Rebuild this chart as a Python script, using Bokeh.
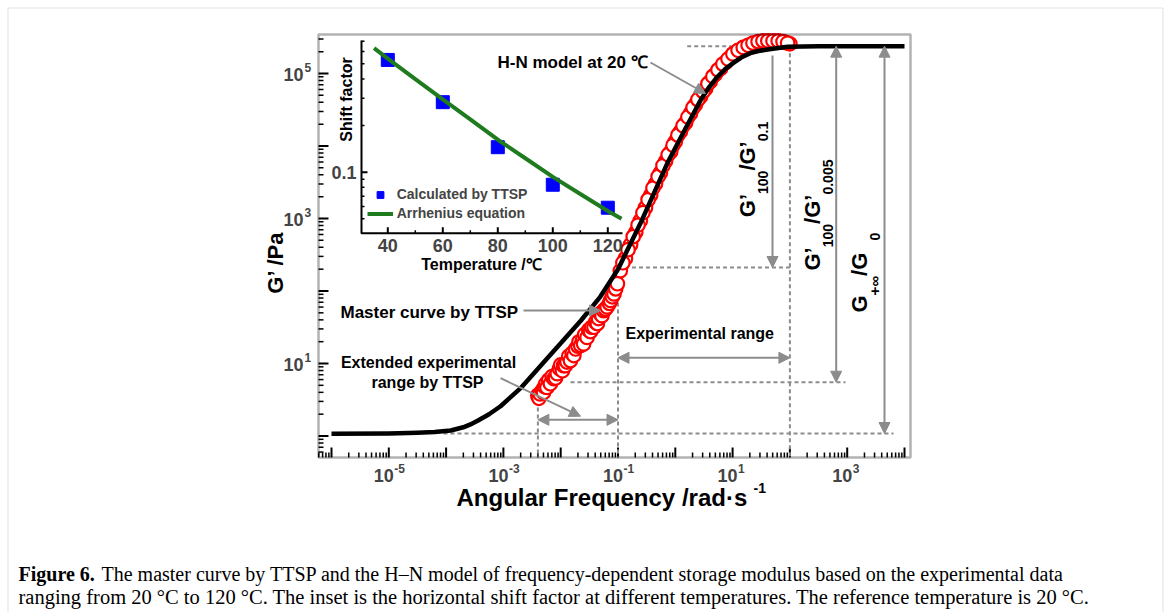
import math
from bokeh.plotting import figure
from bokeh.models import (Range1d, LogScale, LinearScale, Label, Arrow,
                          NormalHead, BoxAnnotation, Legend, LegendItem)
from bokeh.embed import file_html
from bokeh.resources import INLINE

# ---------------- data ----------------
# H-N model at 20 C (log10 of angular frequency, log10 of G')
hn_log_omega = [-6.0, -5.0, -4.5, -4.2, -3.92, -3.7, -3.575, -3.45, -3.25, -3.05, -2.70, -2.35,
                -2.0, -1.65, -1.31, -1.0, -0.61, -0.14, 0.15, 0.44, 0.58, 0.73, 0.87, 1.02,
                1.15, 1.31, 1.45, 1.61, 1.96, 2.5, 3.0, 4.0]
hn_log_G = [0.03, 0.035, 0.045, 0.055, 0.076, 0.12, 0.16, 0.21, 0.30, 0.41, 0.66, 0.97,
            1.28, 1.59, 1.92, 2.30, 2.93, 3.76, 4.20, 4.63, 4.80, 4.95, 5.06, 5.15,
            5.22, 5.28, 5.31, 5.33, 5.37, 5.375, 5.377, 5.377]

# master curve by TTSP (experimental points, log10 values, overlapping segments)
exp_log_omega = [-2.40, -2.38, -2.36, -2.32, -2.30, -2.28, -2.26, -2.24, -2.21, -2.18, -2.15,
                 -2.12, -2.09, -2.06, -2.02, -2.00, -1.97, -1.95, -1.92, -1.89, -1.86, -1.83,
                 -1.80, -1.77, -1.74, -1.70, -1.68, -1.65, -1.62, -1.60, -1.58, -1.54, -1.51,
                 -1.48, -1.46, -1.42, -1.39, -1.36, -1.34, -1.31, -1.28, -1.25, -1.22, -1.19,
                 -1.15, -1.13, -1.10, -1.07, -1.04, -1.01,
                 -0.96, -0.87, -0.78, -0.69, -0.61, -0.52, -0.43, -0.345, -0.26, -0.17, -0.08,
                 0.0, 0.09, 0.18, 0.265, 0.35, 0.44, 0.53, 0.61, 0.70, 0.79, 0.875, 0.96, 1.05,
                 1.14, 1.23, 1.31, 1.40, 1.49, 1.57, 1.66, 1.75, 1.84, 1.92, 2.0,
                 -0.915, -0.825, -0.735, -0.65, -0.565, -0.475, -0.39, -0.30, -0.215, -0.125,
                 -0.04, 0.045, 0.135, 0.22, 0.31, 0.395, 0.485, 0.57, 0.655, 0.745, 0.83, 0.92,
                 1.005, 1.095, 1.185, 1.27, 1.355, 1.445, 1.53, 1.615, 1.705, 1.795, 1.88, 1.96]
exp_log_G = [0.56, 0.52, 0.58, 0.63, 0.60, 0.68, 0.72, 0.67, 0.77, 0.72, 0.82,
             0.79, 0.80, 0.86, 0.93, 0.98, 0.90, 0.97, 0.97, 1.02, 1.10, 1.04,
             1.14, 1.11, 1.20, 1.24, 1.30, 1.25, 1.32, 1.27, 1.40, 1.36, 1.46,
             1.44, 1.50, 1.50, 1.57, 1.55, 1.62, 1.69, 1.66, 1.73, 1.75, 1.78,
             1.83, 1.87, 1.92, 1.96, 2.03, 2.10,
             2.28, 2.45, 2.64, 2.81, 2.97, 3.15, 3.32, 3.48, 3.63, 3.79, 3.92,
             4.06, 4.20, 4.32, 4.45, 4.57, 4.68, 4.79, 4.89, 4.99, 5.07, 5.15, 5.22, 5.28,
             5.32, 5.36, 5.39, 5.41, 5.43, 5.43, 5.44, 5.44, 5.44, 5.43, 5.41,
             2.39, 2.57, 2.75, 2.91, 3.08, 3.26, 3.42, 3.58, 3.73, 3.88,
             4.01, 4.15, 4.28, 4.40, 4.53, 4.64, 4.75, 4.86, 4.96, 5.05, 5.13, 5.20,
             5.27, 5.32, 5.36, 5.39, 5.42, 5.44, 5.45, 5.45, 5.45, 5.45, 5.44, 5.42]

# inset: shift factor vs temperature
ttsp_temp = [40, 60, 80, 100, 120]
ttsp_shift = [0.53, 0.283, 0.145, 0.083, 0.059]
arr_temp = [35, 40, 50, 60, 70, 80, 90, 100, 110, 120, 125]
arr_shift = [0.631, 0.540, 0.398, 0.295, 0.219, 0.162, 0.123, 0.0933, 0.0724, 0.0562, 0.0501]

# reference levels marked by dashed guides
G_inf = 10 ** 5.377
G_0 = 10 ** 0.034
G_01 = 10 ** 2.324
G_0005 = 10 ** 0.742
w_ext_lo = 0.004
w_lo = 0.1
w_hi = 100.0

x_tick_exps = [-5, -3, -1, 1, 3]
y_tick_exps = [1, 3, 5]
inset_x_ticks = [40, 60, 80, 100, 120]
inset_x_minor = [50, 70, 90, 110]
inset_y_major = [0.1]
inset_y_minor = [0.05, 0.06, 0.07, 0.08, 0.09, 0.2, 0.3, 0.4, 0.5, 0.6, 0.7]

# ---------------- layout (pixel geometry of the canvas) ----------------
W, H = 1170, 612


def px2x(px):   # main x scale: 10^-5 at 388.3 px, 57.3 px per decade
    return 10 ** (-5 + (px - 388.3) / 57.3)


def px2y(py):   # main y scale: 10^1 at 363 px, 72.5 px per decade
    return 10 ** (1 - (py - 363) / 72.5)


def ipx2t(px):  # inset x scale
    return 40 + (px - 387.3) / 2.75


def ipy2v(py):  # inset y scale
    return 10 ** (-1 - (py - 171.7) / 155)


FL, FR, FT, FB = 318, 910, 34, 457
X_LO, X_HI = px2x(FL), px2x(FR)
Y_LO, Y_HI = px2y(FB), px2y(FT)
INSET_X0, INSET_X1 = ipx2t(361), ipx2t(622)
INSET_Y0, INSET_Y1 = ipy2v(232.7), ipy2v(40)

GREY = "#8c8c8c"
FONT = "Liberation Sans"

p = figure(width=W, height=H, x_axis_type="log", y_axis_type="log",
           x_range=Range1d(px2x(0), px2x(W)), y_range=Range1d(px2y(H), px2y(0)),
           output_backend="svg", toolbar_location=None, min_border=0,
           min_border_left=0, min_border_right=0, min_border_top=0, min_border_bottom=0)
p.background_fill_color = "white"
p.border_fill_color = "white"
p.xgrid.visible = False
p.ygrid.visible = False
p.xaxis.visible = False
p.yaxis.visible = False
p.outline_line_color = None

p.extra_x_ranges = {"ix": Range1d(ipx2t(0), ipx2t(W))}
p.extra_y_ranges = {"iy": Range1d(ipy2v(H), ipy2v(0))}
p.extra_x_scales = {"ix": LinearScale()}
p.extra_y_scales = {"iy": LogScale()}

CX0, CY0 = px2x(0), px2y(H)


def label_px(px, py, text, size, align="left", baseline="middle", angle=0.0,
             style="bold", font=FONT, color="black"):
    p.add_layout(Label(x=CX0, y=CY0, x_offset=px, y_offset=H - py, text=text,
                       text_font_size=f"{size}px", text_font=font, text_font_style=style,
                       text_align=align, text_baseline=baseline, angle=angle,
                       text_color=color))


# outer border of the figure panel
p.add_layout(BoxAnnotation(left=px2x(7.5), right=px2x(1162.5), top=px2y(7.5),
                           bottom=px2y(650), fill_alpha=0, line_color="#9a9a9a",
                           line_width=1, level="underlay"))

# main axis ticks (inward)
x_major = [10.0 ** k for k in range(-6, 5)]
x_minor = [m * 10.0 ** k for k in range(-7, 5) for m in range(2, 10)]
x_minor = [v for v in x_minor if X_LO < v < X_HI]
y_major = [10.0 ** k for k in range(0, 6)]
y_minor = [m * 10.0 ** k for k in range(-1, 6) for m in range(2, 10)]
y_minor = [v for v in y_minor if Y_LO < v < Y_HI]
p.ray(x=x_major, y=[Y_LO] * len(x_major), length=10, angle=math.pi / 2,
      length_units="screen", color="black", line_width=2)
p.ray(x=x_minor, y=[Y_LO] * len(x_minor), length=5, angle=math.pi / 2,
      length_units="screen", color="black", line_width=1.5)
p.ray(x=[X_LO] * len(y_major), y=y_major, length=10, angle=0,
      length_units="screen", color="black", line_width=2)
p.ray(x=[X_LO] * len(y_minor), y=y_minor, length=5, angle=0,
      length_units="screen", color="black", line_width=1.5)

# ---------------- dashed guides ----------------
dash = dict(line_dash="4 3", color=GREY, line_width=2)
p.line([px2x(686.7), w_hi], [G_inf, G_inf], **dash)
p.line([w_lo, w_hi], [G_01, G_01], **dash)
p.line([px2x(570), px2x(845)], [G_0005, G_0005], **dash)
p.line([px2x(443), px2x(893)], [G_0, G_0], **dash)
p.line([w_ext_lo, w_ext_lo], [px2y(400), Y_LO], **dash)
p.line([w_lo, w_lo], [G_01, Y_LO], **dash)
p.line([w_hi, w_hi], [G_inf, Y_LO], **dash)

# ---------------- data ----------------
exp_omega = [10 ** v for v in exp_log_omega]
exp_G = [10 ** v for v in exp_log_G]
hn_omega = [10 ** v for v in hn_log_omega]
hn_G = [10 ** v for v in hn_log_G]
p.scatter(exp_omega, exp_G, marker="circle", size=13.5, line_color="#ff0000",
          fill_color="white", line_width=2.2)
p.line(hn_omega, hn_G, color="black", line_width=4.5, line_join="round")

# main plot frame
p.add_layout(BoxAnnotation(left=X_LO, right=X_HI, bottom=Y_LO, top=Y_HI, fill_alpha=0,
                           line_color="black", line_width=2.5))


# ---------------- arrows ----------------
def head():
    return NormalHead(size=11, fill_color=GREY, line_color=GREY, line_width=1)


def arrow(x0, y0, x1, y1, both=False):
    kw = dict(x_start=x0, y_start=y0, x_end=x1, y_end=y1, line_color=GREY,
              line_width=2, end=head())
    if both:
        kw["start"] = head()
    p.add_layout(Arrow(**kw))


arrow(w_lo, px2y(357.3), w_hi, px2y(357.3), both=True)
arrow(w_ext_lo, px2y(419.3), w_lo, px2y(419.3), both=True)
arrow(px2x(772), px2y(55), px2x(772), G_01)
arrow(px2x(835.7), G_inf, px2x(835.7), G_0005, both=True)
arrow(px2x(884), G_inf, px2x(884), G_0, both=True)
arrow(px2x(650), px2y(62), px2x(705), px2y(93))
arrow(px2x(523), px2y(310), px2x(600), px2y(310))
arrow(px2x(500), px2y(377.7), px2x(580), px2y(415.7))

# ---------------- inset ----------------
ir = dict(x_range_name="ix", y_range_name="iy")
p.line([INSET_X0, INSET_X0, INSET_X1], [INSET_Y1, INSET_Y0, INSET_Y0], color="black",
       line_width=2, **ir)
p.ray(x=inset_x_ticks, y=[INSET_Y0] * len(inset_x_ticks), length=6, angle=math.pi / 2,
      length_units="screen", color="black", line_width=2, **ir)
p.ray(x=inset_x_minor, y=[INSET_Y0] * len(inset_x_minor), length=3, angle=math.pi / 2,
      length_units="screen", color="black", line_width=1.5, **ir)
p.ray(x=[INSET_X0] * len(inset_y_major), y=inset_y_major, length=6, angle=0,
      length_units="screen", color="black", line_width=2, **ir)
p.ray(x=[INSET_X0] * len(inset_y_minor), y=inset_y_minor, length=3, angle=0,
      length_units="screen", color="black", line_width=1.5, **ir)

sq = p.scatter(ttsp_temp, ttsp_shift, marker="square", size=13, color="#0000ff", **ir)
gl = p.line(arr_temp, arr_shift, color="#1e7b1e", line_width=4, **ir)

for t in inset_x_ticks:
    p.add_layout(Label(x=t, y=INSET_Y0, y_offset=-12.5, text=str(t), text_font=FONT,
                       text_font_style="bold", text_font_size="18px", text_align="center",
                       text_baseline="middle", **ir))
for v in inset_y_major:
    p.add_layout(Label(x=INSET_X0, y=v, x_offset=-5, text=f"{v:g}", text_font=FONT,
                       text_font_style="bold", text_font_size="18px", text_align="right",
                       text_baseline="middle", **ir))

leg = Legend(items=[LegendItem(label="Calculated by TTSP", renderers=[sq]),
                    LegendItem(label="Arrhenius equation", renderers=[gl])],
             location=(366.7, H - 221.5), orientation="vertical",
             background_fill_alpha=0, border_line_alpha=0, padding=0, margin=0,
             spacing=2, glyph_width=26, glyph_height=17, label_height=17,
             label_standoff=4, label_text_font=FONT, label_text_font_style="bold",
             label_text_font_size="14px")
p.add_layout(leg)

label_px(346, 99, "Shift factor", 16, align="center", angle=math.pi / 2)
label_px(481, 263.5, "Temperature /℃", 16, align="center")

# ---------------- annotations ----------------
label_px(497, 62, "H-N model at 20 ℃", 17)
label_px(340, 311.7, "Master curve by TTSP", 17)
label_px(428, 361.7, "Extended experimental", 16, align="center")
label_px(427, 381.7, "range by TTSP", 16, align="center")
label_px(625, 333.3, "Experimental range", 16)

# rotated ratio labels, made of pieces (text, size, subscript?)
WID = {"G": .778, "’": .278, "/": .278, ".": .278, "+": .584, "∞": .713, " ": .278}


def text_w(s, size):
    return sum(WID.get(c, .556) for c in s) * size


def rot_pieces(x_main, x_sub, y_bottom, pieces):
    # x_main / x_sub: horizontal centre of the main letters / of the subscripts
    y = y_bottom
    for s, size, sub in pieces:
        label_px(x_sub if sub else x_main, y, s, size, align="left",
                 baseline="middle", angle=math.pi / 2)
        y -= text_w(s, size)


rot_pieces(747, 762, 216.7, [("G’", 22, False), ("100", 14, True), ("/G’", 22, False),
                             ("0.1", 14, True)])
rot_pieces(812, 827, 270, [("G’", 22, False), ("100", 14, True), ("/G’", 22, False),
                           ("0.005", 14, True)])
rot_pieces(859, 874, 312, [("G", 22, False), ("+∞", 15, True), ("  /G", 22, False),
                           ("0", 14, True)])

# ---------------- axis tick labels and titles ----------------
for k in x_tick_exps:
    p.add_layout(Label(x=10.0 ** k, y=Y_LO, x_offset=5, y_offset=-(475 - FB), text="10",
                       text_font=FONT, text_font_style="bold", text_font_size="18px",
                       text_align="right", text_baseline="middle"))
    p.add_layout(Label(x=10.0 ** k, y=Y_LO, x_offset=5.5, y_offset=-(468 - FB), text=str(k),
                       text_font=FONT, text_font_style="bold", text_font_size="12px",
                       text_align="left", text_baseline="middle"))
for k in y_tick_exps:
    p.add_layout(Label(x=X_LO, y=10.0 ** k, x_offset=-15, y_offset=-1, text="10",
                       text_font=FONT, text_font_style="bold", text_font_size="18px",
                       text_align="right", text_baseline="middle"))
    p.add_layout(Label(x=X_LO, y=10.0 ** k, x_offset=-14, y_offset=6, text=str(k),
                       text_font=FONT, text_font_style="bold", text_font_size="12px",
                       text_align="left", text_baseline="middle"))

label_px(275, 262, "G’ /Pa", 22, align="center", angle=math.pi / 2)
label_px(456, 497, "Angular Frequency /rad·s", 24)
label_px(753, 487, "-1", 14)

# ---------------- caption ----------------
SERIF = "Liberation Serif"
label_px(18, 573, "Figure 6.", 20, font=SERIF)
label_px(101, 573, "The master curve by TTSP and the H–N model of frequency-dependent storage "
                   "modulus based on the experimental data", 20, style="normal", font=SERIF)
label_px(18, 596, "ranging from 20 °C to 120 °C. The inset is the horizontal shift factor at "
                  "different temperatures. The reference temperature is 20 °C.", 20.5,
         style="normal", font=SERIF)

open("out.html", "w").write(file_html(p, INLINE))
